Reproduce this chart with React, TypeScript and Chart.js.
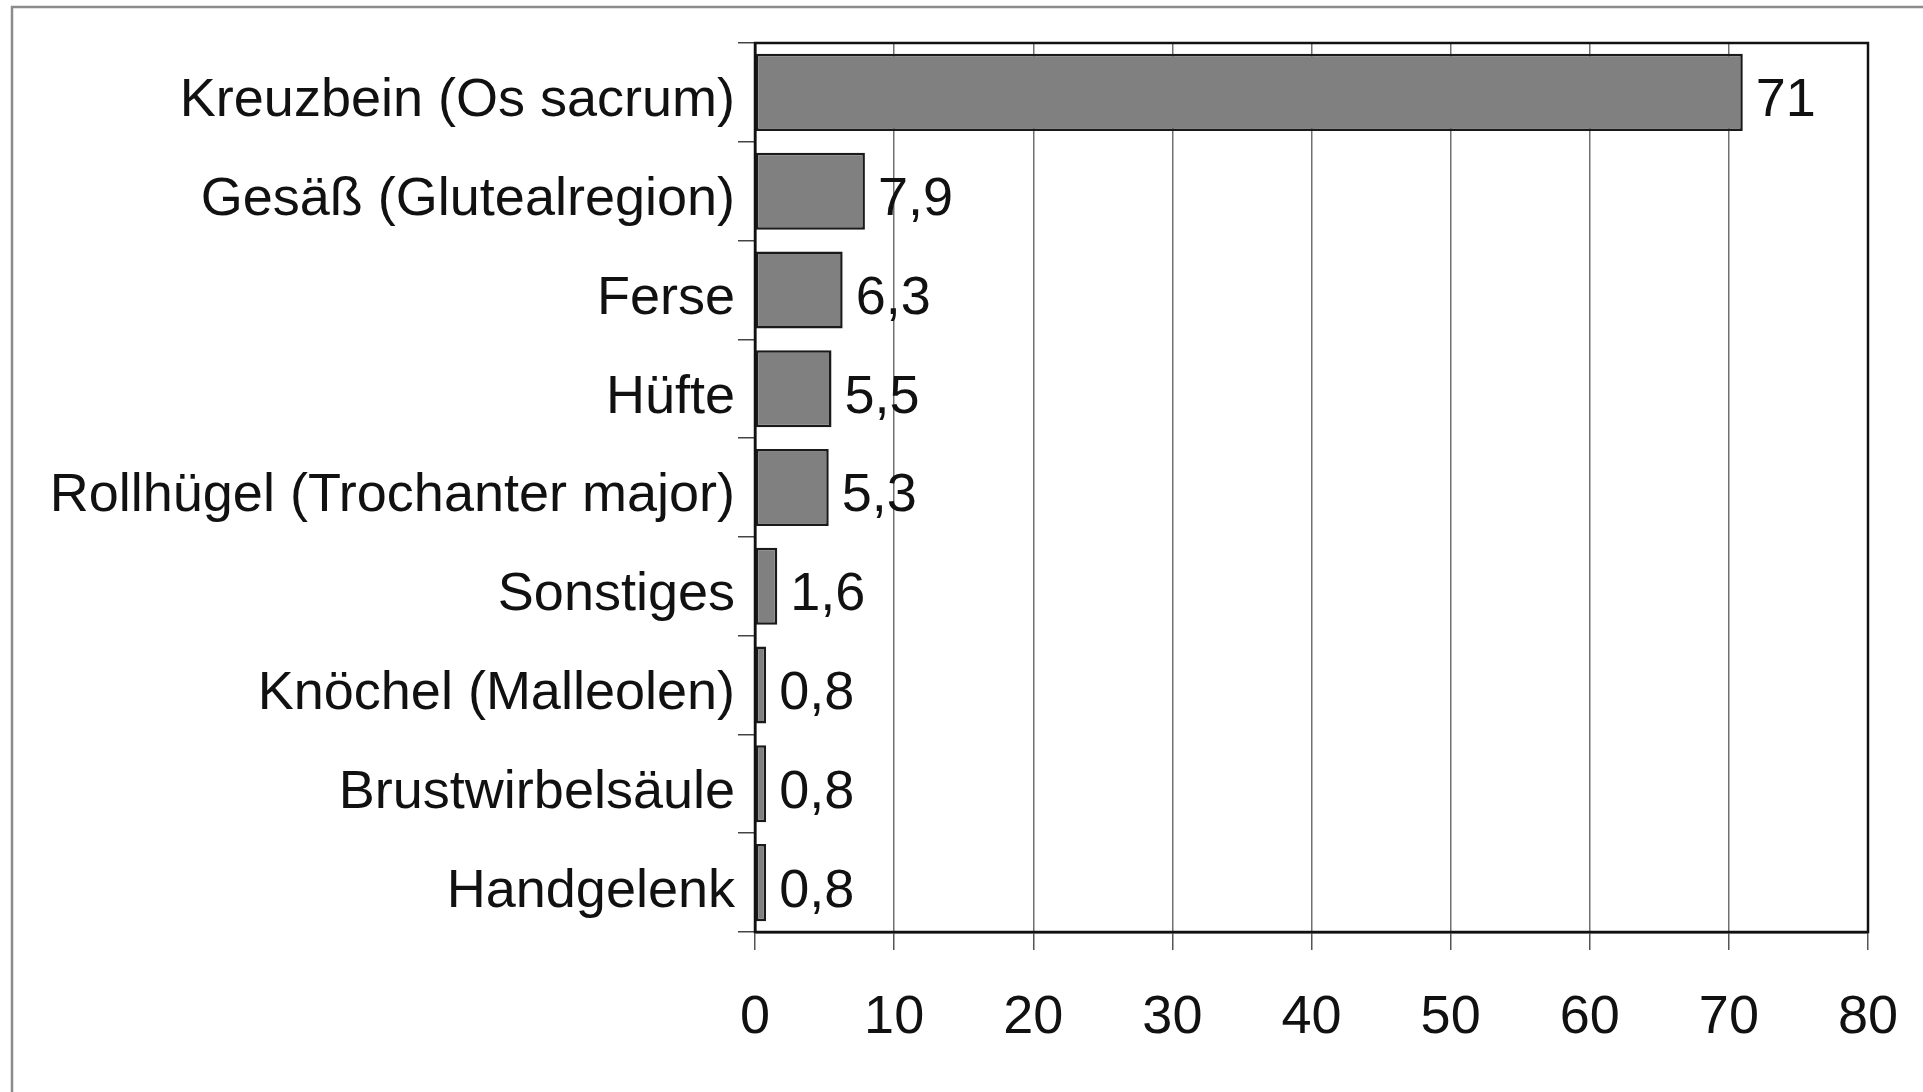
import React, { useEffect, useRef } from "react";
import { Chart, registerables } from "chart.js";

Chart.register(...registerables);

const categories = [
  "Kreuzbein (Os sacrum)",
  "Gesäß (Glutealregion)",
  "Ferse",
  "Hüfte",
  "Rollhügel (Trochanter major)",
  "Sonstiges",
  "Knöchel (Malleolen)",
  "Brustwirbelsäule",
  "Handgelenk",
];
const values = [71, 7.9, 6.3, 5.5, 5.3, 1.6, 0.8, 0.8, 0.8];
const xMin = 0;
const xMax = 80;
const xStep = 10;

const FONT = "'Liberation Sans', Arial, 'DejaVu Sans', sans-serif";

const formatValue = (v: number) => String(v).replace(".", ",");

const framePlugin = {
  id: "frame",
  beforeDraw(chart: any) {
    const ctx = chart.ctx;
    ctx.save();
    ctx.fillStyle = "#ffffff";
    ctx.fillRect(0, 0, chart.width, chart.height);
    ctx.strokeStyle = "#8c8c8c";
    ctx.lineWidth = 2.5;
    ctx.beginPath();
    ctx.moveTo(12, chart.height);
    ctx.lineTo(12, 7);
    ctx.lineTo(chart.width, 7);
    ctx.stroke();
    ctx.restore();
  },
  afterDatasetsDraw(chart: any) {
    const ctx = chart.ctx;
    const a = chart.chartArea;
    ctx.save();
    ctx.strokeStyle = "#111111";
    ctx.lineWidth = 2.5;
    ctx.strokeRect(a.left, a.top, a.right - a.left, a.bottom - a.top);
    // value labels
    const meta = chart.getDatasetMeta(0);
    ctx.fillStyle = "#111111";
    ctx.font = `54px ${FONT}`;
    ctx.textAlign = "left";
    ctx.textBaseline = "middle";
    meta.data.forEach((bar: any, i: number) => {
      const v = chart.data.datasets[0].data[i];
      ctx.fillText(formatValue(v), bar.x + 13, bar.y + 9);
    });
    ctx.restore();
  },
};

export default function App() {
  const ref = useRef<HTMLCanvasElement | null>(null);
  useEffect(() => {
    if (!ref.current) return;
    const chart = new Chart(ref.current, {
      type: "bar",
      data: {
        labels: categories,
        datasets: [
          {
            data: values,
            backgroundColor: "#808080",
            borderColor: "#1a1a1a",
            borderWidth: 2.5,
            borderSkipped: false,
            barPercentage: 0.78,
            categoryPercentage: 1,
          },
        ],
      },
      options: {
        indexAxis: "y",
        responsive: false,
        animation: false,
        layout: { padding: { top: 43, right: 55, left: 0, bottom: 0 } },
        plugins: {
          legend: { display: false },
          tooltip: { enabled: false },
        },
        scales: {
          x: {
            type: "linear",
            min: xMin,
            max: xMax,
            ticks: {
              stepSize: xStep,
              color: "#111111",
              font: { family: FONT, size: 54 },
              padding: 36,
            },
            grid: {
              color: "#707070",
              lineWidth: 1.5,
              tickLength: 18,
              tickColor: "#555555",
            },
            border: { color: "#111111", width: 2.5 },
            afterFit: (scale: any) => {
              scale.height = 160;
              scale.paddingRight = 0;
              scale.paddingLeft = 0;
            },
          },
          y: {
            type: "category",
            ticks: {
              color: "#111111",
              font: { family: FONT, size: 54 },
              padding: 3,
              labelOffset: 9,
            },
            grid: {
              offset: true,
              drawOnChartArea: false,
              tickLength: 17,
              color: "#444444",
              lineWidth: 1.5,
            },
            border: { color: "#111111", width: 2.5 },
            afterFit: (scale: any) => {
              scale.width = 755;
            },
          },
        },
      },
      plugins: [framePlugin],
    });
    return () => chart.destroy();
  }, []);
  return (
    <div style={{ position: "absolute", left: 0, top: 0, width: 1923, height: 1092 }}>
      <canvas ref={ref} width={1923} height={1092} />
    </div>
  );
}
